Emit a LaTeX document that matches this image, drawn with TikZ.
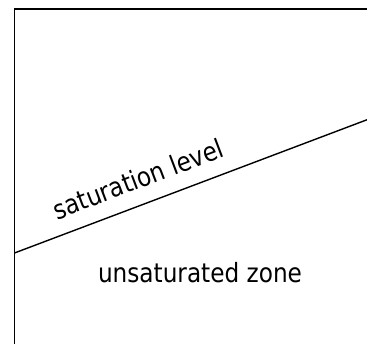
\documentclass[tikz,border=0pt]{standalone}
\usepackage{fontspec}
\setmainfont{DejaVu Sans}
\begin{document}
\begin{tikzpicture}[x=1pt,y=1pt,
  label text/.style={font=\fontsize{26.5}{30}\selectfont, inner sep=0pt, anchor=base},
  frame line/.style={line width=1.8pt},
  level line/.style={line width=1.4pt}]
\useasboundingbox (0,0) rectangle (367,344);
\coordinate (bl) at (14.5,-2);
\coordinate (tl) at (14.5,335);
\coordinate (tr) at (369,335);
\coordinate (sl) at (14.5,91);
\coordinate (sr) at (369,225);
\draw[frame line] (bl) -- (tl) -- (tr);
\draw[level line] (sl) -- (sr);
\node[label text, rotate=20.8, xscale=0.875] (sat) at (141.5,156) {saturation level};
\node[label text, xscale=0.875] (unsat) at (200,61) {unsaturated zone};
\end{tikzpicture}
\end{document}
